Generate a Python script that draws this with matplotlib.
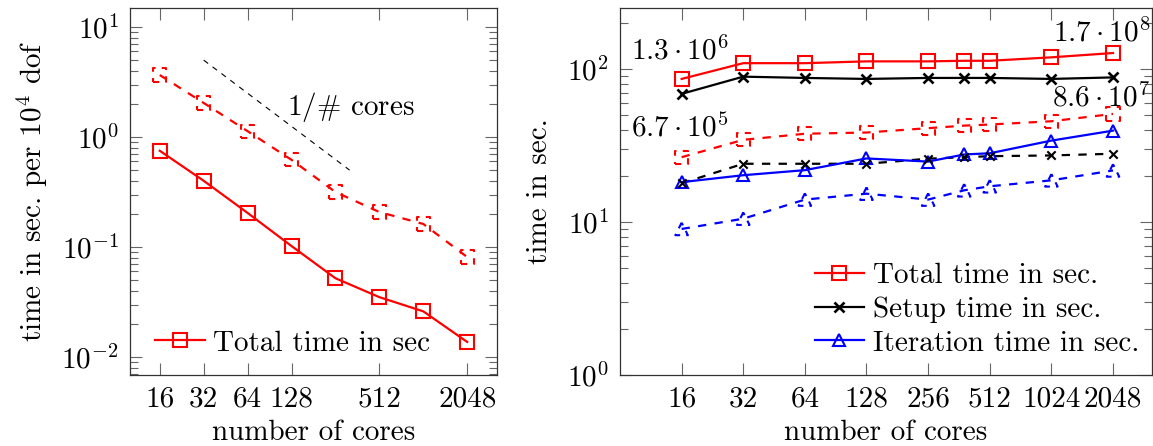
# strong scaling plots, time vs. number of cores

import numpy as np
import matplotlib
matplotlib.use('Agg')
import matplotlib.pyplot as plt
from matplotlib.ticker import FixedLocator, NullLocator, LogLocator, NullFormatter

plt.rcParams['font.family'] = 'serif'
plt.rcParams['font.serif'] = ['cmr10']
plt.rcParams['mathtext.fontset'] = 'cm'
plt.rcParams['axes.formatter.use_mathtext'] = True
plt.rcParams['font.size'] = 21

# left plot: time per 10^4 dof
cores_l = [16, 32, 64, 128, 256, 512, 1024, 2048]
total_l = [0.75, 0.40, 0.204, 0.102, 0.052, 0.035, 0.026, 0.0137]
total_l_dash = [3.66, 2.04, 1.13, 0.62, 0.316, 0.208, 0.162, 0.081]
ref_x = [32, 320]
ref_y = [5.0, 0.5]
xt_l = [16, 32, 64, 128, 512, 2048]

# right plot: absolute times
cores_r = [16, 32, 64, 128, 256, 384, 512, 1024, 2048]
total_r = [86, 109, 109, 112, 112, 113, 113, 119, 127]
setup_r = [68.7, 89, 87.3, 86, 87.3, 87.3, 87.3, 86, 88]
iter_r = [18.2, 20.2, 21.8, 26, 24.8, 27.6, 28.1, 34, 39.5]
total_r_dash = [26.5, 34.4, 37.7, 38.4, 41, 42.6, 43.3, 45.5, 50.8]
setup_r_dash = [17.9, 24, 24, 24, 25.9, 26.5, 26.9, 27.2, 27.9]
iter_r_dash = [9.0, 10.5, 14, 15.3, 14, 16.1, 17.1, 18.7, 21.7]
xt_r = [16, 32, 64, 128, 256, 512, 1024, 2048]

# dof labels (x, y, text, offset in px)
dof_notes = [(16, 86, r'$1.3\cdot 10^{6}$', (-2, 28)),
             (16, 26.5, r'$6.7\cdot 10^{5}$', (-2, 29)),
             (2048, 127, r'$1.7\cdot 10^{8}$', (-11, 20)),
             (2048, 50.8, r'$8.6\cdot 10^{7}$', (-12, 16))]

W, H = 1153, 446
fig = plt.figure(figsize=(W/100, H/100), dpi=100)
axL = fig.add_axes([130/W, 71/H, 367/W, 367/H])
axR = fig.add_axes([620/W, 71/H, 531.5/W, 367/H])

lw = 1.6
ms = 9.5
dash = (6/lw, 6/lw)

def series(ax, x, y, color, marker, dashed=False, label=None, size=ms, mew=1.5):
    if not dashed:
        ax.plot(x, y, color=color, lw=lw, marker=marker, ms=size, mfc='none',
                mec=color, mew=mew, label=label, zorder=3)
    else:
        ax.plot(x, y, color=color, lw=lw, ls=(0, dash), zorder=2)
        mls = 'solid' if marker == 'x' else (0, (3, 3))
        ax.scatter(x, y, s=size**2, marker=marker, facecolors='none' if marker != 'x' else color,
                   edgecolors=color, linewidths=mew, linestyles=mls, zorder=3)

def style(ax, xt):
    ax.set_xscale('log')
    ax.set_yscale('log')
    ax.xaxis.set_major_locator(FixedLocator(xt))
    ax.set_xticklabels([str(v) for v in xt])
    ax.xaxis.set_minor_locator(NullLocator())
    ax.yaxis.set_minor_locator(LogLocator(base=10, subs=np.arange(2, 10)))
    ax.yaxis.set_minor_formatter(NullFormatter())
    ax.tick_params(which='both', direction='in', top=True, right=True,
                   color='#666666', width=0.8)
    ax.tick_params(which='major', length=8.6, pad=8)
    ax.tick_params(which='minor', length=5.8)
    for s in ax.spines.values():
        s.set_linewidth(0.9)
        s.set_color('#333333')
    ax.set_xlabel('number of cores', labelpad=5)

# left
series(axL, cores_l, total_l, 'red', 's', label='Total time in sec')
series(axL, cores_l, total_l_dash, 'red', 's', dashed=True)
axL.plot(ref_x, ref_y, color='black', lw=0.8, ls=(0, (5, 5)))
axL.text(324, 1.87, r'$1/\#$ cores', ha='center', va='center')
style(axL, xt_l)
axL.set_xlim(10, 3277)
axL.set_ylim(0.00686, 14.9)
axL.set_yticks([1e-2, 1e-1, 1e0, 1e1])
axL.set_yticklabels([r'$10^{-2}$', r'$10^{-1}$', r'$10^{0}$', r'$10^{1}$'])
axL.set_ylabel(r'time in sec. per $10^4$ dof', labelpad=8)
axL.legend(loc='lower left', bbox_to_anchor=(0.068, 0.05), frameon=False,
           borderpad=0, borderaxespad=0, handlelength=1.7, handletextpad=0.3,
           numpoints=1)

# right
series(axR, cores_r, total_r, 'red', 's', label='Total time in sec.')
series(axR, cores_r, setup_r, 'black', 'x', label='Setup time in sec.', size=7, mew=1.9)
series(axR, cores_r, iter_r, 'blue', '^', label='Iteration time in sec.', size=9)
series(axR, cores_r, total_r_dash, 'red', 's', dashed=True)
series(axR, cores_r, setup_r_dash, 'black', 'x', dashed=True, size=6, mew=1.5)
series(axR, cores_r, iter_r_dash, 'blue', '^', dashed=True, size=9)
for x, y, t, (dx, dy) in dof_notes:
    axR.annotate(t, (x, y), xytext=(dx*0.72, dy*0.72), textcoords='offset points',
                 ha='center', va='center')
style(axR, xt_r)
axR.set_xlim(8, 3158)
axR.set_ylim(1, 250)
axR.set_yticks([1, 10, 100])
axR.set_yticklabels([r'$10^{0}$', r'$10^{1}$', r'$10^{2}$'])
axR.set_ylabel('time in sec.', labelpad=10)
axR.legend(loc='lower left', bbox_to_anchor=(0.366, 0.05), frameon=False,
           borderpad=0, borderaxespad=0, handlelength=1.7, handletextpad=0.3,
           labelspacing=0.25, numpoints=1)

fig.savefig('out.png', dpi=100)
